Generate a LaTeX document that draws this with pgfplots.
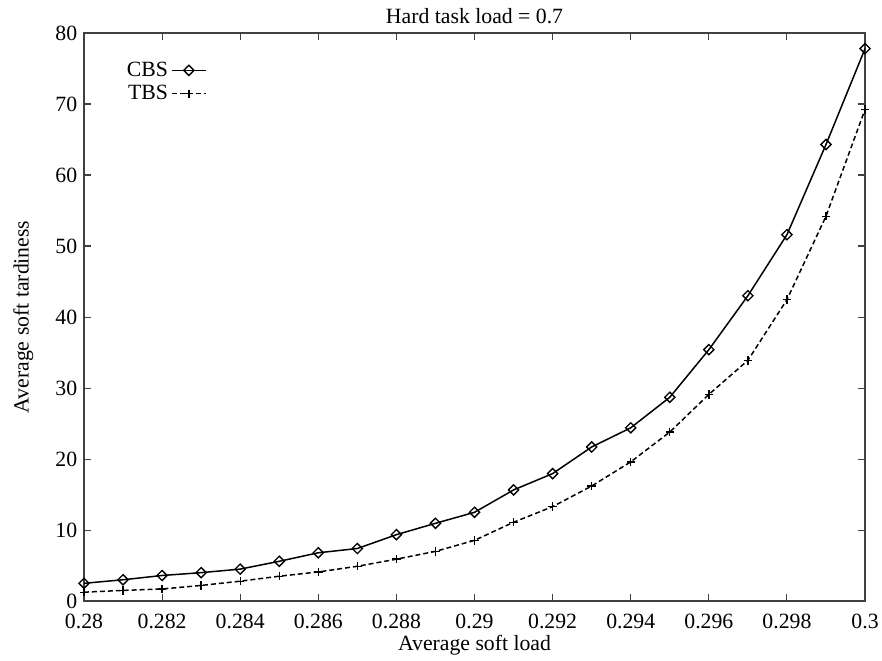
\documentclass[border=0pt]{standalone}
\usepackage{pgfplots}
\pgfplotsset{compat=1.18}
\usepackage{fontspec}
\setmainfont{Liberation Serif}

\begin{document}
\begin{tikzpicture}
% fixed page frame around the plot area
\useasboundingbox (-56pt,-39.3pt) rectangle (532pt,400.7pt);
\begin{axis}[
  at={(0pt,0pt)}, anchor=south west,
  scale only axis,
  width=520.7pt, height=378.7pt,
  xmin=0.28, xmax=0.3,
  ymin=0, ymax=80,
  xtick={0.28,0.282,0.284,0.286,0.288,0.29,0.292,0.294,0.296,0.298,0.3},
  xticklabels={0.28,0.282,0.284,0.286,0.288,0.29,0.292,0.294,0.296,0.298,0.3},
  ytick={0,10,...,80},
  scaled x ticks=false,
  /pgf/number format/assume math mode=true,
  tick align=inside,
  tick pos=both,
  major tick length=4.5pt,
  axis line style={line width=0.9pt, black!75},
  every tick/.style={black!75, line width=0.7pt},
  tick label style={font=\fontsize{14.5}{17}\selectfont},
  xticklabel style={yshift=-5pt},
  yticklabel style={xshift=-1pt},
  title={Hard task load = 0.7},
  title style={font=\fontsize{14.5}{17}\selectfont,
    at={(axis description cs:0.5,1)}, anchor=center, yshift=5pt},
  xlabel={Average soft load},
  xlabel style={font=\fontsize{14.5}{17}\selectfont,
    at={(axis description cs:0.5,0)}, anchor=center, yshift=-29.5pt},
  ylabel={Average soft tardiness},
  ylabel style={font=\fontsize{14.5}{17}\selectfont,
    at={(axis description cs:0,0.5)}, anchor=center, yshift=40.5pt},
  legend plot pos=right,
  legend style={draw=none, fill=none, at={(0.045,0.96)}, anchor=north west,
    font=\fontsize{14.5}{17}\selectfont, row sep=0.5pt},
  legend cell align=right,
  legend image code/.code={%
    \draw[mark repeat=2,mark phase=2] plot coordinates {(0cm,0cm) (0.4cm,0cm) (0.8cm,0cm)};},
]
\addplot[black, line width=1pt, mark=square, mark size=2.4pt,
  mark options={solid, rotate=45, line width=0.9pt, fill=white}]
  coordinates {
  (0.280,2.5) (0.281,3.0) (0.282,3.6) (0.283,4.0) (0.284,4.5)
  (0.285,5.6) (0.286,6.8) (0.287,7.4) (0.288,9.35) (0.289,10.95)
  (0.290,12.5) (0.291,15.65) (0.292,17.95) (0.293,21.7) (0.294,24.4)
  (0.295,28.7) (0.296,35.4) (0.297,43.0) (0.298,51.6) (0.299,64.3)
  (0.300,77.8)};
\addlegendentry{CBS}
\addplot[black, line width=1pt, dash pattern=on 3.3pt off 2pt, mark=+, mark size=2.8pt,
  mark options={solid, line width=0.9pt}]
  coordinates {
  (0.280,1.25) (0.281,1.5) (0.282,1.7) (0.283,2.2) (0.284,2.8)
  (0.285,3.5) (0.286,4.1) (0.287,4.9) (0.288,5.9) (0.289,7.0)
  (0.290,8.55) (0.291,11.1) (0.292,13.3) (0.293,16.2) (0.294,19.6)
  (0.295,23.8) (0.296,29.1) (0.297,33.9) (0.298,42.45) (0.299,54.2)
  (0.300,69.25)};
\addlegendentry{TBS}
\end{axis}
\end{tikzpicture}
\end{document}
